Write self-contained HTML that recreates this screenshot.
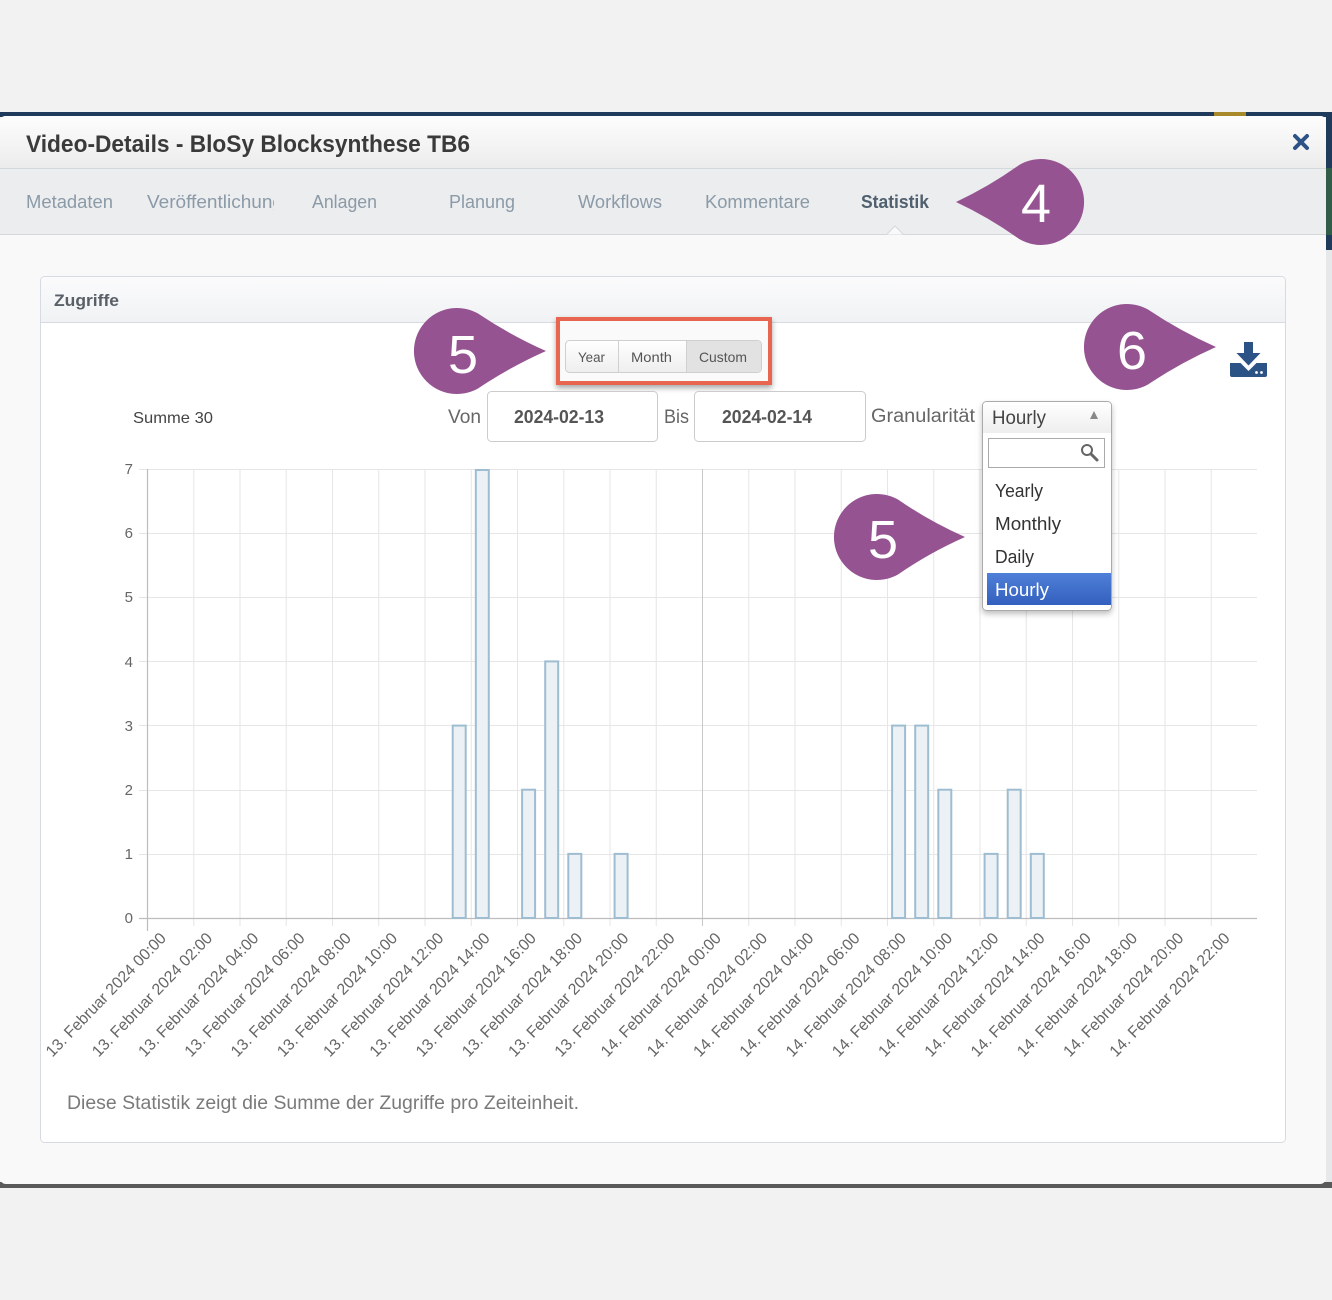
<!DOCTYPE html>
<html><head><meta charset="utf-8"><style>
html,body{margin:0;padding:0;background:#f2f2f2;}
svg{display:block;}
text{font-family:"Liberation Sans",Arial,sans-serif;}
</style></head><body>
<svg width="1332" height="1300" viewBox="0 0 1332 1300" xmlns="http://www.w3.org/2000/svg">
<defs>
<linearGradient id="hdr" x1="0" y1="0" x2="0" y2="1"><stop offset="0" stop-color="#fdfdfd"/><stop offset="1" stop-color="#ececec"/></linearGradient>
<linearGradient id="phdr" x1="0" y1="0" x2="0" y2="1"><stop offset="0" stop-color="#fbfbfc"/><stop offset="1" stop-color="#f0f2f4"/></linearGradient>
<linearGradient id="btn" x1="0" y1="0" x2="0" y2="1"><stop offset="0" stop-color="#ffffff"/><stop offset="1" stop-color="#eeeeee"/></linearGradient>
<linearGradient id="sel" x1="0" y1="0" x2="0" y2="1"><stop offset="0" stop-color="#ffffff"/><stop offset="1" stop-color="#eeeeee"/></linearGradient>
<linearGradient id="hl" x1="0" y1="0" x2="0" y2="1"><stop offset="0" stop-color="#4f80d8"/><stop offset="1" stop-color="#3360be"/></linearGradient>
<filter id="sh" x="-10%" y="-10%" width="120%" height="130%"><feDropShadow dx="0" dy="3" stdDeviation="3" flood-color="#000" flood-opacity="0.35"/></filter>
<filter id="sh2" x="-10%" y="-10%" width="130%" height="120%"><feDropShadow dx="0" dy="3" stdDeviation="3" flood-color="#000" flood-opacity="0.25"/></filter>
<clipPath id="vclip"><rect x="140" y="180" width="134" height="40"/></clipPath>
</defs>

<rect x="0" y="0" width="1332" height="1300" fill="#f2f2f2"/>
<rect x="0" y="112" width="1332" height="5" fill="#1f3a5a"/>
<rect x="1214" y="112" width="32" height="5" fill="#a88a2a"/>
<rect x="1326" y="112" width="6" height="56" fill="#1f3a5a"/>
<rect x="1326" y="168" width="6" height="67" fill="#2f5d47"/>
<rect x="1326" y="235" width="6" height="15" fill="#1f3a5a"/>
<rect x="1326" y="250" width="6" height="935" fill="#e6e8ea"/>
<rect x="0" y="1182" width="1332" height="6" fill="#5a5a5a"/>

<rect x="0" y="116" width="1326" height="1068" rx="6" fill="#f9f9f9"/>
<path d="M6 116 H1320 Q1326 116 1326 122 V168 H0 V122 Q0 116 6 116 Z" fill="url(#hdr)"/>
<rect x="0" y="168" width="1326" height="1" fill="#d3d8dd"/>
<rect x="0" y="169" width="1326" height="65" fill="#ecedef"/>
<rect x="0" y="234" width="1326" height="1" fill="#d5d8db"/>
<path d="M886 235 L895 226 L904 235 Z" fill="#f9f9f9" stroke="#d5d8db" stroke-width="1"/>
<rect x="885" y="235" width="20" height="2" fill="#f9f9f9"/>

<text x="26" y="152" font-size="24" font-weight="bold" fill="#3a3a3a" textLength="444" lengthAdjust="spacingAndGlyphs">Video-Details - BloSy Blocksynthese TB6</text>
<g stroke="#2d5286" stroke-width="4" stroke-linecap="round">
<line x1="1295" y1="136" x2="1307" y2="148"/><line x1="1307" y1="136" x2="1295" y2="148"/>
</g>

<g font-size="18" fill="#8b9aa7">
<text x="26" y="208" textLength="87" lengthAdjust="spacingAndGlyphs">Metadaten</text>
<text x="147" y="208" textLength="136" lengthAdjust="spacingAndGlyphs" clip-path="url(#vclip)">Veröffentlichung</text>
<text x="312" y="208" textLength="65" lengthAdjust="spacingAndGlyphs">Anlagen</text>
<text x="449" y="208" textLength="66" lengthAdjust="spacingAndGlyphs">Planung</text>
<text x="578" y="208" textLength="84" lengthAdjust="spacingAndGlyphs">Workflows</text>
<text x="705" y="208" textLength="105" lengthAdjust="spacingAndGlyphs">Kommentare</text>
<text x="861" y="208" textLength="68" lengthAdjust="spacingAndGlyphs" font-weight="bold" fill="#50606f">Statistik</text>
</g>

<rect x="40.5" y="276.5" width="1245" height="866" rx="4" fill="#ffffff" stroke="#d5dbe0"/>
<path d="M41 281 Q41 277 45 277 H1281 Q1285 277 1285 281 V322 H41 Z" fill="url(#phdr)"/>
<rect x="41" y="322" width="1244" height="1" fill="#d5dbe0"/>
<text x="54" y="306" font-size="17" font-weight="bold" fill="#5a6068" textLength="65" lengthAdjust="spacingAndGlyphs">Zugriffe</text>

<rect x="558" y="319" width="212" height="64" fill="#fafafa" stroke="#e8654f" stroke-width="4" filter="url(#sh)"/>
<rect x="565.5" y="340.5" width="196" height="32" rx="4" fill="url(#btn)" stroke="#cfcfcf"/>
<path d="M686 341 H757 Q761 341 761 345 V368 Q761 372 757 372 H686 Z" fill="#e2e2e2"/>
<rect x="618" y="341" width="1" height="31" fill="#d0d0d0"/>
<rect x="686" y="341" width="1" height="31" fill="#d0d0d0"/>
<g font-size="14" fill="#555">
<text x="578" y="362" textLength="27" lengthAdjust="spacingAndGlyphs">Year</text>
<text x="631" y="362" textLength="41" lengthAdjust="spacingAndGlyphs">Month</text>
<text x="699" y="362" textLength="48" lengthAdjust="spacingAndGlyphs">Custom</text>
</g>

<text x="133" y="423" font-size="16" fill="#444" textLength="80" lengthAdjust="spacingAndGlyphs">Summe 30</text>
<text x="448" y="423" font-size="19" fill="#666" textLength="33" lengthAdjust="spacingAndGlyphs">Von</text>
<rect x="487.5" y="391.5" width="170" height="50" rx="4" fill="#fff" stroke="#cccccc"/>
<text x="514" y="423" font-size="18" font-weight="bold" fill="#555" textLength="90" lengthAdjust="spacingAndGlyphs">2024-02-13</text>
<text x="664" y="423" font-size="19" fill="#666" textLength="25" lengthAdjust="spacingAndGlyphs">Bis</text>
<rect x="694.5" y="391.5" width="171" height="50" rx="4" fill="#fff" stroke="#cccccc"/>
<text x="722" y="423" font-size="18" font-weight="bold" fill="#555" textLength="90" lengthAdjust="spacingAndGlyphs">2024-02-14</text>
<text x="871" y="422" font-size="19" fill="#666" textLength="104" lengthAdjust="spacingAndGlyphs">Granularität</text>

<g fill="#2c5385">
<rect x="1244" y="342" width="9" height="13"/>
<polygon points="1236.5,353 1260.5,353 1248.5,365.5"/>
<path d="M1230 363 H1240.5 L1248.5 371 L1256.5 363 H1267 V375 Q1267 377 1265 377 H1232 Q1230 377 1230 375 Z"/>
</g>
<circle cx="1256.5" cy="372.5" r="1.4" fill="#fff"/>
<circle cx="1261.5" cy="372.5" r="1.4" fill="#fff"/>

<g stroke="#e6e6e6" stroke-width="1">
<line x1="139" y1="469.5" x2="1257" y2="469.5"/>
<line x1="139" y1="533.5" x2="1257" y2="533.5"/>
<line x1="139" y1="597.5" x2="1257" y2="597.5"/>
<line x1="139" y1="661.5" x2="1257" y2="661.5"/>
<line x1="139" y1="725.5" x2="1257" y2="725.5"/>
<line x1="139" y1="790.5" x2="1257" y2="790.5"/>
<line x1="139" y1="854.5" x2="1257" y2="854.5"/>
<line x1="193.75" y1="469" x2="193.75" y2="926"/>
<line x1="240" y1="469" x2="240" y2="926"/>
<line x1="286.25" y1="469" x2="286.25" y2="926"/>
<line x1="332.5" y1="469" x2="332.5" y2="926"/>
<line x1="378.75" y1="469" x2="378.75" y2="926"/>
<line x1="425" y1="469" x2="425" y2="926"/>
<line x1="471.25" y1="469" x2="471.25" y2="926"/>
<line x1="517.5" y1="469" x2="517.5" y2="926"/>
<line x1="563.75" y1="469" x2="563.75" y2="926"/>
<line x1="610" y1="469" x2="610" y2="926"/>
<line x1="656.25" y1="469" x2="656.25" y2="926"/>
<line x1="748.75" y1="469" x2="748.75" y2="926"/>
<line x1="795" y1="469" x2="795" y2="926"/>
<line x1="841.25" y1="469" x2="841.25" y2="926"/>
<line x1="887.5" y1="469" x2="887.5" y2="926"/>
<line x1="933.75" y1="469" x2="933.75" y2="926"/>
<line x1="980" y1="469" x2="980" y2="926"/>
<line x1="1026.25" y1="469" x2="1026.25" y2="926"/>
<line x1="1072.5" y1="469" x2="1072.5" y2="926"/>
<line x1="1118.75" y1="469" x2="1118.75" y2="926"/>
<line x1="1165" y1="469" x2="1165" y2="926"/>
<line x1="1211.25" y1="469" x2="1211.25" y2="926"/>
</g>
<line x1="702.5" y1="469" x2="702.5" y2="926" stroke="#c9c9c9" stroke-width="1"/>
<line x1="147.5" y1="469" x2="147.5" y2="931" stroke="#bdbdbd" stroke-width="1.2"/>
<line x1="139" y1="918.5" x2="1257" y2="918.5" stroke="#bdbdbd" stroke-width="1.2"/>

<g font-size="15" fill="#666" text-anchor="end">
<text x="133" y="474">7</text>
<text x="133" y="538">6</text>
<text x="133" y="602">5</text>
<text x="133" y="667">4</text>
<text x="133" y="731">3</text>
<text x="133" y="795">2</text>
<text x="133" y="859">1</text>
<text x="133" y="923">0</text>
</g>

<g fill="#ebf1f5" stroke="#9fbdd0" stroke-width="2">
<rect x="452.7" y="725.6" width="13" height="192.4"/>
<rect x="475.8" y="470" width="13" height="448"/>
<rect x="522.1" y="789.7" width="13" height="128.3"/>
<rect x="545.2" y="661.4" width="13" height="256.6"/>
<rect x="568.3" y="853.9" width="13" height="64.1"/>
<rect x="614.6" y="853.9" width="13" height="64.1"/>
<rect x="892.1" y="725.6" width="13" height="192.4"/>
<rect x="915.2" y="725.6" width="13" height="192.4"/>
<rect x="938.3" y="789.7" width="13" height="128.3"/>
<rect x="984.6" y="853.9" width="13" height="64.1"/>
<rect x="1007.7" y="789.7" width="13" height="128.3"/>
<rect x="1030.8" y="853.9" width="13" height="64.1"/>
</g>

<g font-size="16" fill="#666" text-anchor="end">
<text transform="translate(167,939) rotate(-46)" textLength="165" lengthAdjust="spacingAndGlyphs">13. Februar 2024 00:00</text>
<text transform="translate(213.25,939) rotate(-46)" textLength="165" lengthAdjust="spacingAndGlyphs">13. Februar 2024 02:00</text>
<text transform="translate(259.5,939) rotate(-46)" textLength="165" lengthAdjust="spacingAndGlyphs">13. Februar 2024 04:00</text>
<text transform="translate(305.75,939) rotate(-46)" textLength="165" lengthAdjust="spacingAndGlyphs">13. Februar 2024 06:00</text>
<text transform="translate(352,939) rotate(-46)" textLength="165" lengthAdjust="spacingAndGlyphs">13. Februar 2024 08:00</text>
<text transform="translate(398.25,939) rotate(-46)" textLength="165" lengthAdjust="spacingAndGlyphs">13. Februar 2024 10:00</text>
<text transform="translate(444.5,939) rotate(-46)" textLength="165" lengthAdjust="spacingAndGlyphs">13. Februar 2024 12:00</text>
<text transform="translate(490.75,939) rotate(-46)" textLength="165" lengthAdjust="spacingAndGlyphs">13. Februar 2024 14:00</text>
<text transform="translate(537,939) rotate(-46)" textLength="165" lengthAdjust="spacingAndGlyphs">13. Februar 2024 16:00</text>
<text transform="translate(583.25,939) rotate(-46)" textLength="165" lengthAdjust="spacingAndGlyphs">13. Februar 2024 18:00</text>
<text transform="translate(629.5,939) rotate(-46)" textLength="165" lengthAdjust="spacingAndGlyphs">13. Februar 2024 20:00</text>
<text transform="translate(675.75,939) rotate(-46)" textLength="165" lengthAdjust="spacingAndGlyphs">13. Februar 2024 22:00</text>
<text transform="translate(722,939) rotate(-46)" textLength="165" lengthAdjust="spacingAndGlyphs">14. Februar 2024 00:00</text>
<text transform="translate(768.25,939) rotate(-46)" textLength="165" lengthAdjust="spacingAndGlyphs">14. Februar 2024 02:00</text>
<text transform="translate(814.5,939) rotate(-46)" textLength="165" lengthAdjust="spacingAndGlyphs">14. Februar 2024 04:00</text>
<text transform="translate(860.75,939) rotate(-46)" textLength="165" lengthAdjust="spacingAndGlyphs">14. Februar 2024 06:00</text>
<text transform="translate(907,939) rotate(-46)" textLength="165" lengthAdjust="spacingAndGlyphs">14. Februar 2024 08:00</text>
<text transform="translate(953.25,939) rotate(-46)" textLength="165" lengthAdjust="spacingAndGlyphs">14. Februar 2024 10:00</text>
<text transform="translate(999.5,939) rotate(-46)" textLength="165" lengthAdjust="spacingAndGlyphs">14. Februar 2024 12:00</text>
<text transform="translate(1045.75,939) rotate(-46)" textLength="165" lengthAdjust="spacingAndGlyphs">14. Februar 2024 14:00</text>
<text transform="translate(1092,939) rotate(-46)" textLength="165" lengthAdjust="spacingAndGlyphs">14. Februar 2024 16:00</text>
<text transform="translate(1138.25,939) rotate(-46)" textLength="165" lengthAdjust="spacingAndGlyphs">14. Februar 2024 18:00</text>
<text transform="translate(1184.5,939) rotate(-46)" textLength="165" lengthAdjust="spacingAndGlyphs">14. Februar 2024 20:00</text>
<text transform="translate(1230.75,939) rotate(-46)" textLength="165" lengthAdjust="spacingAndGlyphs">14. Februar 2024 22:00</text>
</g>

<g filter="url(#sh2)">
<rect x="982.5" y="401.5" width="129" height="209" rx="4" fill="#ffffff" stroke="#aaaaaa"/>
</g>
<path d="M983 406 Q983 402 987 402 H1107 Q1111 402 1111 406 V433 H983 Z" fill="url(#sel)"/>
<text x="992" y="424" font-size="19" fill="#444" textLength="54" lengthAdjust="spacingAndGlyphs">Hourly</text>
<polygon points="1094,411 1090,419 1098,419" fill="#888"/>
<rect x="988.5" y="438.5" width="116" height="29" fill="#fff" stroke="#aaaaaa"/>
<circle cx="1087" cy="450" r="5" fill="none" stroke="#666" stroke-width="2"/>
<line x1="1091" y1="454" x2="1097" y2="460" stroke="#666" stroke-width="3" stroke-linecap="round"/>
<g font-size="18" fill="#333">
<text x="995" y="497" textLength="48" lengthAdjust="spacingAndGlyphs">Yearly</text>
<text x="995" y="530" textLength="66" lengthAdjust="spacingAndGlyphs">Monthly</text>
<text x="995" y="563" textLength="39" lengthAdjust="spacingAndGlyphs">Daily</text>
</g>
<rect x="987" y="573" width="124" height="32" fill="url(#hl)"/>
<text x="995" y="596" font-size="18" fill="#fff" textLength="54" lengthAdjust="spacingAndGlyphs">Hourly</text>

<text x="67" y="1109" font-size="19" fill="#7a7a7a" textLength="512" lengthAdjust="spacingAndGlyphs">Diese Statistik zeigt die Summe der Zugriffe pro Zeiteinheit.</text>

<g fill="#955392">
<path d="M956 202 Q990 186 1019 165.1 A43 43 0 1 1 1019 238.9 Q990 218 956 202 Z"/>
<path d="M546 351 Q510 335 478 313.5 A43 43 0 1 0 478 388.5 Q510 367 546 351 Z"/>
<path d="M1216 347 Q1180 331 1148 309.5 A43 43 0 1 0 1148 384.5 Q1180 363 1216 347 Z"/>
<path d="M965 537 Q929 521 898 499.5 A43 43 0 1 0 898 574.5 Q929 553 965 537 Z"/>
</g>
<g font-size="54" fill="#ffffff" text-anchor="middle">
<text x="1036" y="222">4</text>
<text x="463" y="373">5</text>
<text x="1132" y="369">6</text>
<text x="883" y="558">5</text>
</g>
</svg>
</body></html>
